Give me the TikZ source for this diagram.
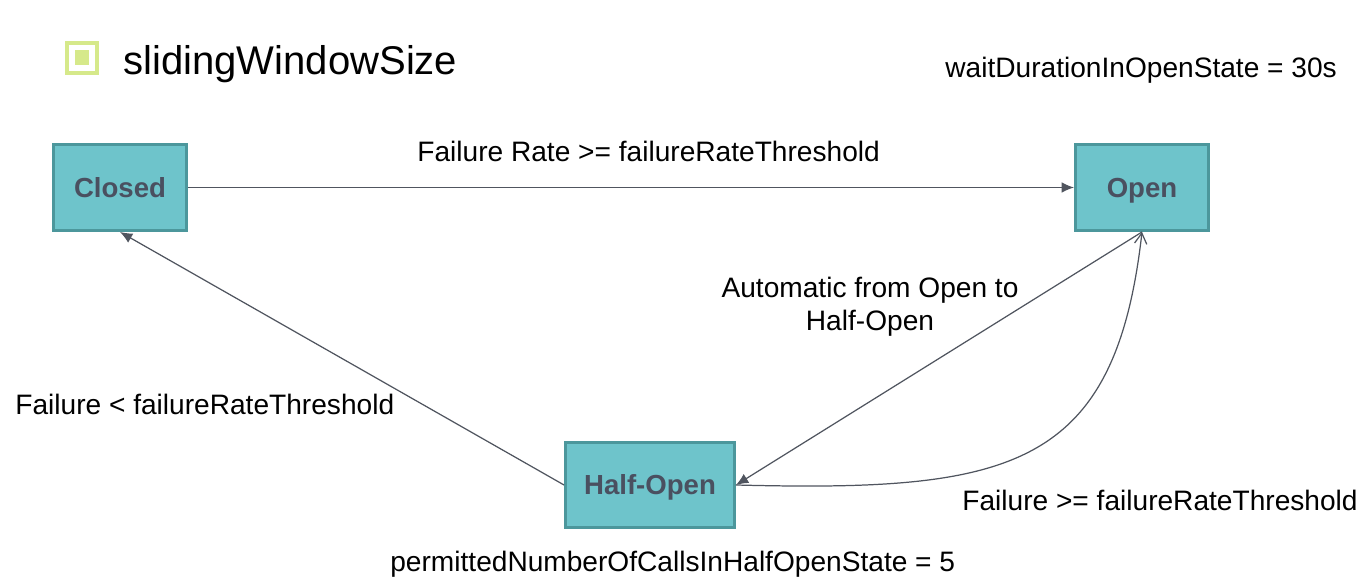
\documentclass[tikz,border=0pt]{standalone}
\usepackage{fontspec}
\setmainfont{Liberation Sans}
\usepackage{xcolor}
\usepackage{tikz}
\usetikzlibrary{arrows.meta}

\definecolor{boxfill}{HTML}{6EC4CB}
\definecolor{boxline}{HTML}{4C979C}
\definecolor{boxtext}{HTML}{4A5060}
\definecolor{wire}{HTML}{50555F}
\definecolor{bulletgreen}{HTML}{D6E98A}

\begin{document}
\begin{tikzpicture}[x=0.02cm,y=-0.02cm]
        \tikzset{State/.style={%
            shape=rectangle,%
            draw=boxline,%
            fill=boxfill,%
            line width=1.7pt,%
            minimum width=2.66cm,%
            minimum height=1.72cm,%
            text height=11pt,%
            text depth=0pt,%
            text=boxtext,%
            font=\fontsize{15.7}{18}\selectfont\bfseries,%
        }}
        \tikzset{Label/.style={%
            anchor=base west,%
            inner sep=0pt,%
            font=\fontsize{16}{19}\selectfont,%
        }}
        \tikzset{Wire/.style={%
            draw=wire,%
            line width=0.7pt,%
            -{Latex[length=7pt,width=6pt]},%
        }}

        \useasboundingbox (0,0) rectangle (1360,580);

        % title with its bullet
        \node[draw=bulletgreen, line width=2.2pt, minimum size=0.6cm, inner sep=0pt] (bullet) at (82,58) {};
        \node[fill=bulletgreen, minimum size=0.3cm, inner sep=0pt] (bulletdot) at (bullet) {};
        \node[Label, font=\fontsize{22.8}{27}\selectfont] (title) at (123,75) {slidingWindowSize};

        \node[State] (closed) at (120,187.5) {Closed};
        \node[State] (open) at (1142,187.5) {Open};
        \node[State, minimum width=3.38cm, minimum height=1.70cm] (halfopen) at (650,485) {Half-Open};

        \node[Label] (wait) at (945,78) {waitDurationInOpenState = 30s};
        \node[Label] (rate) at (417,162) {Failure Rate >= failureRateThreshold};
        \node[Label, anchor=center, align=center] (auto) at (870,307) {Automatic from Open to\\Half-Open};
        \node[Label] (back) at (15,415) {Failure < failureRateThreshold};
        \node[Label] (again) at (962,511) {Failure >= failureRateThreshold};
        \node[Label] (calls) at (390,572) {permittedNumberOfCallsInHalfOpenState = 5};

        \path (closed) edge[Wire] (open);
        \path (halfopen.west) edge[Wire] (closed.south);
        \path (open.south) edge[Wire] (halfopen.east);
        \draw[Wire, -{Straight Barb[length=6pt,width=7pt]}] (halfopen.east) .. controls (1010,492) and (1115,470) .. (open.south);
\end{tikzpicture}
\end{document}
